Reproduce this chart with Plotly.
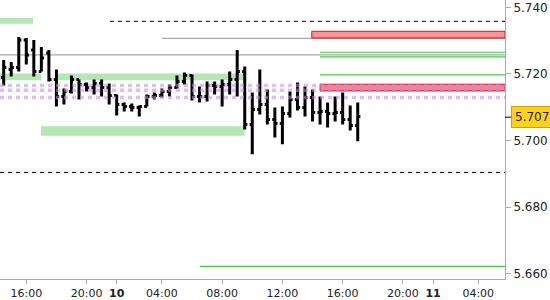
import plotly.graph_objects as go

# ---- data ----
bar_slot = list(range(48))
opens = [5.7189, 5.7213, 5.7219, 5.7302, 5.7272, 5.7207, 5.7263, 5.7183, 5.7132, 5.7147,
         5.7183, 5.7168, 5.7159, 5.7171, 5.7159, 5.7135, 5.7108, 5.7102, 5.7099, 5.7102,
         5.7132, 5.7135, 5.7147, 5.7159, 5.7177, 5.7195, 5.7132, 5.7132, 5.7165, 5.7162,
         5.7168, 5.7183, 5.7207, 5.7048, 5.7093, 5.7108, 5.7063, 5.7051, 5.7081, 5.7123,
         5.7099, 5.7129, 5.7084, 5.7087, 5.7081, 5.7084, 5.7063, 5.7045]
highs = [5.7242, 5.7236, 5.7311, 5.7308, 5.7302, 5.7281, 5.7272, 5.7213, 5.7156, 5.7195,
         5.7183, 5.7174, 5.7183, 5.7183, 5.7171, 5.7138, 5.7114, 5.7111, 5.7105, 5.7138,
         5.7144, 5.7156, 5.7168, 5.7195, 5.7204, 5.7198, 5.7162, 5.7177, 5.7177, 5.7183,
         5.7207, 5.7272, 5.7222, 5.7144, 5.7213, 5.7153, 5.7099, 5.7102, 5.7147, 5.7174,
         5.7162, 5.7153, 5.7132, 5.7114, 5.7132, 5.7144, 5.7105, 5.7114]
lows = [5.7165, 5.7192, 5.7207, 5.7228, 5.7192, 5.7207, 5.7177, 5.7102, 5.7108, 5.7141,
        5.7123, 5.7147, 5.7138, 5.7132, 5.7108, 5.7075, 5.7087, 5.7087, 5.7072, 5.7102,
        5.7123, 5.7129, 5.7132, 5.7156, 5.7168, 5.7120, 5.7114, 5.7117, 5.7138, 5.7102,
        5.7138, 5.7132, 5.7033, 5.6959, 5.7078, 5.7048, 5.7009, 5.6989, 5.7069, 5.7090,
        5.7072, 5.7057, 5.7048, 5.7039, 5.7057, 5.7048, 5.7030, 5.6998]
closes = [5.7219, 5.7219, 5.7302, 5.7257, 5.7207, 5.7248, 5.7183, 5.7132, 5.7147, 5.7183,
          5.7168, 5.7159, 5.7171, 5.7159, 5.7135, 5.7108, 5.7102, 5.7099, 5.7102, 5.7132,
          5.7135, 5.7147, 5.7159, 5.7177, 5.7195, 5.7132, 5.7132, 5.7165, 5.7162, 5.7168,
          5.7183, 5.7207, 5.7048, 5.7093, 5.7108, 5.7063, 5.7051, 5.7081, 5.7123, 5.7099,
          5.7129, 5.7084, 5.7087, 5.7081, 5.7084, 5.7063, 5.7045, 5.7072]

x_tick_slots = [3, 11, 15, 21, 29, 37, 45, 53, 57, 63]
x_tick_labels = ["16:00", "20:00", "<b>10</b>", "04:00", "08:00", "12:00", "16:00", "20:00", "<b>11</b>", "04:00"]
y_ticks = [5.660, 5.680, 5.700, 5.720, 5.740]
current_price = 5.707

x_range = [-0.49, 66.55]
y_range = [5.6584, 5.7422]

# horizontal levels: (price, start slot)
dashed_levels = [5.7358, 5.6904]
dashed_starts = [14.1, -0.49]
gray_levels = [5.7307, 5.7257]
gray_starts = [21.0, -0.49]
green_levels = [5.7265, 5.7251, 5.7197, 5.6622]
green_starts = [42.0, 42.0, 42.0, 26.06]
purple_levels = [5.7165, 5.7151, 5.7129]

# zones: (low, high, start slot, end slot)
green_zone_low = [5.7351, 5.7181, 5.7181, 5.7014]
green_zone_high = [5.7368, 5.7201, 5.7201, 5.7043]
green_zone_x0 = [-0.49, -0.49, 7.2, 4.95]
green_zone_x1 = [3.9, 4.95, 32.0, 32.0]
red_zone_low = [5.7308, 5.7149]
red_zone_high = [5.7328, 5.7169]
red_zone_x0 = [40.9, 42.0]
red_zone_fill = ["rgba(255,140,140,0.95)", "rgba(245,100,130,0.8)"]

fig = go.Figure()

shapes = []
for lo, hi, a, b in zip(green_zone_low, green_zone_high, green_zone_x0, green_zone_x1):
    shapes.append(dict(type="rect", xref="x", yref="y", x0=a, x1=b, y0=lo, y1=hi,
                       fillcolor="rgba(160,225,160,0.8)", line=dict(width=0), layer="below"))
for lv, a in zip(dashed_levels, dashed_starts):
    shapes.append(dict(type="line", xref="x", yref="y", x0=a, x1=x_range[1], y0=lv, y1=lv,
                       line=dict(color="black", width=1, dash="4px,4px"), layer="below"))
for lv, a in zip(gray_levels, gray_starts):
    shapes.append(dict(type="line", xref="x", yref="y", x0=a, x1=x_range[1], y0=lv, y1=lv,
                       line=dict(color="#a8a8a8", width=1.3), layer="below"))
for lv, a in zip(green_levels, green_starts):
    shapes.append(dict(type="line", xref="x", yref="y", x0=a, x1=x_range[1], y0=lv, y1=lv,
                       line=dict(color="#44cc44", width=1.2), layer="below"))
for lo, hi, a, fc in zip(red_zone_low, red_zone_high, red_zone_x0, red_zone_fill):
    shapes.append(dict(type="rect", xref="x", yref="y", x0=a, x1=x_range[1], y0=lo, y1=hi,
                       fillcolor=fc, line=dict(color="#ee1111", width=1), layer="below"))
for lv in purple_levels:
    shapes.append(dict(type="line", xref="x", yref="y", x0=x_range[0], x1=x_range[1], y0=lv, y1=lv,
                       line=dict(color="rgba(190,140,230,0.55)", width=3.5, dash="4px,4px"), layer="above"))
# current price tick mark on axis
shapes.append(dict(type="line", xref="paper", yref="y", x0=1, x1=1 + 6 / 505, y0=current_price,
                   y1=current_price, line=dict(color="black", width=1)))

fig.add_trace(go.Ohlc(
    x=bar_slot, open=opens, high=highs, low=lows, close=closes,
    increasing=dict(line=dict(color="black", width=3)),
    decreasing=dict(line=dict(color="black", width=3)),
    tickwidth=0.35, hoverinfo="skip", showlegend=False,
))

fig.update_layout(
    width=550, height=300,
    margin=dict(l=0, r=45, t=0, b=19, pad=0),
    paper_bgcolor="white", plot_bgcolor="white",
    font=dict(family="DejaVu Sans", size=11, color="#222222"),
    shapes=shapes,
    showlegend=False,
    annotations=[dict(xref="paper", yref="y", x=1, y=current_price, xanchor="left", yanchor="middle",
                      xshift=6, text="5.707", showarrow=False,
                      font=dict(family="DejaVu Sans", size=12, color="#222222"),
                      bgcolor="#fcd116", bordercolor="#d4a000", borderwidth=1, borderpad=3)],
)
fig.update_xaxes(
    range=x_range, rangeslider=dict(visible=False),
    tickmode="array", tickvals=x_tick_slots, ticktext=x_tick_labels,
    ticks="outside", ticklen=4, tickcolor="#aaaaaa", showgrid=False, zeroline=False,
    showline=True, linecolor="#aaaaaa", linewidth=1,
    tickfont=dict(family="DejaVu Sans", size=11, color="#222222"),
)
fig.update_yaxes(
    range=y_range, side="right",
    tickmode="array", tickvals=y_ticks, tickformat=".3f",
    ticks="outside", ticklen=5, tickcolor="#aaaaaa", showgrid=False, zeroline=False,
    showline=True, linecolor="#aaaaaa", linewidth=1,
    tickfont=dict(family="DejaVu Sans", size=12, color="#222222"),
)

fig.write_html("out.html")
